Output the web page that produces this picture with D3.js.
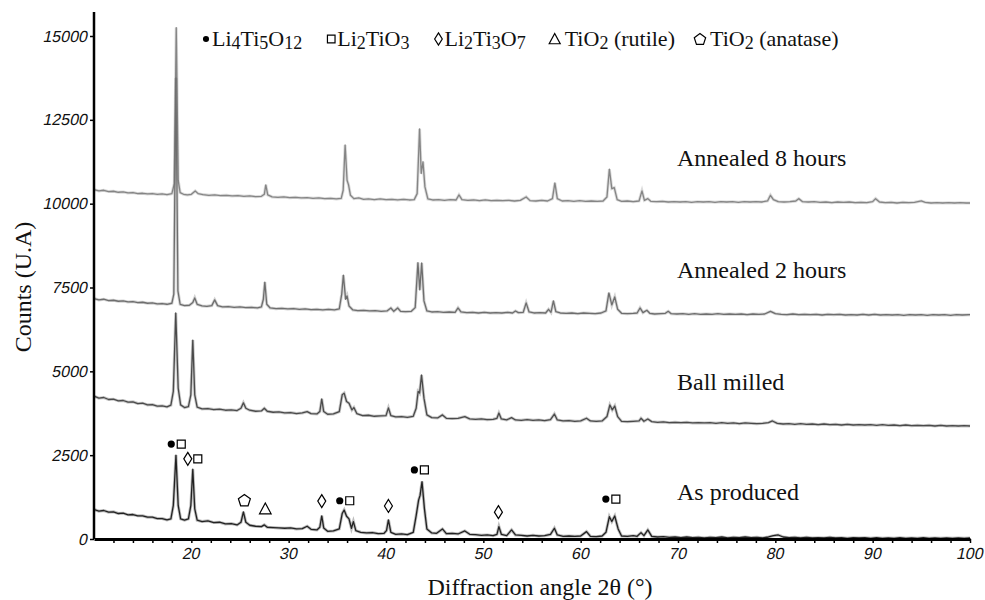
<!DOCTYPE html>
<html>
<head>
<meta charset="utf-8">
<script src="https://cdn.jsdelivr.net/npm/d3@7"></script>
<style>
  body { margin: 0; background: #fff; }
  svg { display: block; }
  .serif { font-family: "Liberation Serif", "Times New Roman", serif; fill: #111; }
</style>
</head>
<body>
<svg id="chart" width="985" height="600"></svg>
<script>
// XRD patterns, [2θ (deg), counts]
const annealed8h = [[10,10420],[10.5,10380],[11,10400],[11.5,10360],[12,10370],[12.5,10340],[13,10350],[13.5,10320],[14,10330],[14.5,10300],[15,10310],[15.5,10290],[16,10300],[16.5,10280],[17,10290],[17.5,10270],[18,10300],[18.25,10600],[18.45,15250],[18.65,10700],[18.85,10330],[19.2,10280],[19.6,10260],[20,10280],[20.4,10380],[20.7,10300],[21.2,10270],[21.8,10250],[22.4,10260],[23,10240],[23.6,10250],[24.2,10230],[24.8,10240],[25.4,10220],[26,10230],[26.6,10210],[27.2,10220],[27.5,10280],[27.65,10560],[27.85,10260],[28.3,10200],[28.9,10190],[29.5,10200],[30.1,10180],[30.7,10190],[31.3,10170],[31.9,10180],[32.5,10160],[33.1,10170],[33.7,10150],[34.3,10160],[34.9,10140],[35.4,10160],[35.6,10400],[35.8,11750],[36,10700],[36.15,10560],[36.35,10250],[36.7,10150],[37.2,10170],[37.7,10130],[38.2,10140],[38.8,10120],[39.4,10140],[40,10120],[40.6,10130],[41.2,10110],[41.8,10130],[42.4,10110],[42.9,10120],[43.2,10300],[43.45,12230],[43.62,10900],[43.8,11250],[44,10500],[44.3,10140],[44.8,10110],[45.4,10120],[46,10100],[46.6,10120],[47.2,10110],[47.5,10260],[47.8,10120],[48.4,10100],[49,10110],[49.6,10090],[50.2,10110],[50.8,10090],[51.4,10100],[52,10090],[52.6,10100],[53.2,10080],[53.8,10100],[54.4,10200],[54.8,10090],[55.4,10080],[56,10100],[56.6,10080],[57.1,10150],[57.35,10620],[57.6,10150],[58.1,10080],[58.7,10090],[59.3,10070],[59.9,10090],[60.5,10070],[61.1,10080],[61.7,10070],[62.3,10080],[62.7,10200],[62.95,11030],[63.2,10450],[63.45,10480],[63.75,10120],[64.2,10070],[64.8,10080],[65.4,10060],[66,10080],[66.3,10380],[66.55,10100],[66.9,10150],[67.2,10070],[67.8,10060],[68.4,10070],[69,10050],[69.6,10060],[70.2,10050],[70.8,10060],[71.4,10040],[72,10060],[72.6,10050],[73.2,10060],[73.8,10040],[74.4,10060],[75,10050],[75.6,10060],[76.2,10040],[76.8,10060],[77.4,10050],[78,10060],[78.6,10050],[79.2,10080],[79.5,10250],[79.8,10120],[80.3,10060],[80.9,10050],[81.5,10060],[82.1,10080],[82.4,10150],[82.8,10060],[83.4,10050],[84,10060],[84.6,10040],[85.2,10050],[85.8,10030],[86.4,10050],[87,10040],[87.6,10050],[88.2,10030],[88.8,10040],[89.4,10030],[90,10060],[90.3,10150],[90.7,10050],[91.3,10030],[91.9,10040],[92.5,10020],[93.1,10040],[93.7,10030],[94.3,10040],[95,10080],[95.4,10040],[96,10020],[96.6,10030],[97.2,10020],[97.8,10030],[98.4,10020],[99,10030],[99.6,10020],[100,10020]];

const annealed2h = [[10,7170],[10.5,7130],[11,7150],[11.5,7110],[12,7120],[12.5,7090],[13,7100],[13.5,7070],[14,7080],[14.5,7050],[15,7060],[15.5,7030],[16,7040],[16.5,7010],[17,7020],[17.5,7000],[18,7030],[18.2,7300],[18.42,13750],[18.62,7400],[18.85,7000],[19.3,6960],[19.8,6970],[20.15,7050],[20.35,7190],[20.6,7000],[21.1,6950],[21.6,6940],[22.1,6960],[22.4,7130],[22.7,6960],[23.2,6920],[23.8,6930],[24.4,6910],[25,6920],[25.6,6900],[26.2,6910],[26.8,6890],[27.2,6920],[27.4,7150],[27.55,7660],[27.75,7000],[28.1,6890],[28.7,6870],[29.3,6880],[29.9,6860],[30.5,6870],[31.1,6850],[31.7,6860],[32.3,6840],[32.9,6850],[33.5,6830],[34.1,6850],[34.7,6830],[35.2,6860],[35.45,7300],[35.62,7870],[35.85,7150],[36,7250],[36.2,6950],[36.6,6830],[37.1,6810],[37.7,6820],[38.3,6800],[38.9,6810],[39.5,6790],[40.1,6800],[40.5,6890],[40.8,6790],[41.2,6890],[41.5,6790],[42,6780],[42.6,6790],[43,6900],[43.28,8240],[43.47,7430],[43.67,8230],[43.9,7100],[44.2,6800],[44.7,6770],[45.3,6780],[45.9,6760],[46.5,6770],[47.1,6760],[47.4,6890],[47.7,6770],[48.3,6750],[48.9,6760],[49.5,6740],[50.1,6760],[50.7,6740],[51.3,6750],[51.9,6740],[52.5,6760],[53,6740],[53.3,6800],[53.6,6750],[54.1,6760],[54.4,7040],[54.7,6770],[55.2,6740],[55.8,6750],[56.4,6740],[56.7,6850],[56.95,6760],[57.2,7100],[57.45,6780],[57.9,6740],[58.5,6730],[59.1,6740],[59.7,6720],[60.3,6740],[60.9,6730],[61.5,6720],[62.1,6740],[62.6,6800],[62.9,7340],[63.2,6980],[63.5,7220],[63.8,6850],[64.2,6730],[64.8,6720],[65.4,6730],[65.8,6740],[66.1,6890],[66.4,6750],[66.8,6820],[67.1,6730],[67.6,6710],[68.2,6720],[68.7,6730],[69,6790],[69.3,6720],[69.9,6710],[70.5,6720],[71.1,6700],[71.7,6720],[72.3,6700],[72.9,6710],[73.5,6700],[74.1,6720],[74.7,6700],[75.3,6710],[75.9,6700],[76.5,6710],[77.1,6690],[77.7,6710],[78.3,6700],[78.9,6710],[79.5,6790],[80,6720],[80.6,6700],[81.2,6690],[81.8,6710],[82.4,6690],[83,6700],[83.6,6690],[84.2,6700],[84.8,6680],[85.4,6700],[86,6690],[86.6,6700],[87.2,6680],[87.8,6690],[88.4,6680],[89,6700],[89.6,6680],[90.2,6700],[90.8,6680],[91.4,6690],[92,6680],[92.6,6690],[93.2,6670],[93.8,6690],[94.4,6680],[95,6690],[95.6,6670],[96.2,6690],[96.8,6680],[97.4,6690],[98,6670],[98.6,6690],[99.2,6680],[100,6690]];

const ballMilled = [[10,4260],[10.5,4200],[11,4220],[11.5,4160],[12,4170],[12.5,4120],[13,4130],[13.5,4080],[14,4090],[14.5,4040],[15,4050],[15.5,4000],[16,4010],[16.5,3960],[17,3970],[17.5,3940],[17.9,3990],[18.15,4400],[18.4,6740],[18.65,4500],[18.9,4000],[19.3,3920],[19.7,3950],[19.95,4300],[20.15,5930],[20.35,4300],[20.6,3930],[21.1,3880],[21.7,3890],[22.3,3860],[22.9,3870],[23.5,3840],[24.1,3850],[24.7,3830],[25.1,3900],[25.35,4060],[25.6,3900],[26,3840],[26.6,3810],[27.2,3820],[27.5,3900],[27.8,3810],[28.4,3780],[29,3790],[29.6,3760],[30.2,3770],[30.8,3740],[31.4,3760],[31.9,3800],[32.3,3740],[32.9,3730],[33.2,3800],[33.4,4175],[33.6,3800],[34,3720],[34.6,3730],[35.2,3800],[35.5,4300],[35.7,4350],[35.95,4100],[36.2,4050],[36.5,3850],[36.7,3920],[37,3740],[37.6,3680],[38.2,3690],[38.8,3660],[39.4,3670],[40,3680],[40.25,3910],[40.5,3680],[41,3640],[41.6,3650],[42.2,3630],[42.8,3660],[43.1,3900],[43.3,4400],[43.45,4350],[43.65,4890],[43.9,4200],[44.2,3700],[44.7,3620],[45.3,3610],[45.8,3700],[46.2,3600],[46.8,3590],[47.4,3600],[48.1,3650],[48.6,3580],[49.2,3570],[49.8,3580],[50.4,3560],[51,3570],[51.4,3600],[51.6,3757],[51.85,3580],[52.4,3550],[52.9,3620],[53.3,3550],[53.9,3540],[54.5,3560],[55.1,3540],[55.7,3550],[56.3,3530],[56.9,3560],[57.3,3727],[57.6,3550],[58.2,3520],[58.8,3530],[59.4,3510],[60,3520],[60.6,3600],[61,3520],[61.6,3510],[62.2,3520],[62.7,3650],[63,3996],[63.25,3850],[63.5,3966],[63.8,3650],[64.2,3510],[64.8,3500],[65.4,3510],[66,3520],[66.2,3600],[66.5,3510],[66.9,3580],[67.3,3500],[67.9,3480],[68.5,3490],[69.1,3470],[69.7,3480],[70.3,3470],[70.9,3480],[71.5,3460],[72.1,3470],[72.7,3460],[73.3,3470],[73.9,3450],[74.5,3470],[75.1,3450],[75.7,3460],[76.3,3440],[76.9,3460],[77.5,3450],[78.1,3440],[78.7,3450],[79.3,3470],[79.7,3520],[80.2,3450],[80.8,3430],[81.4,3440],[82,3420],[82.6,3440],[83.2,3420],[83.8,3430],[84.4,3410],[85,3430],[85.6,3410],[86.2,3420],[86.8,3400],[87.4,3420],[88,3400],[88.6,3410],[89.2,3400],[89.8,3410],[90.4,3390],[91,3410],[91.6,3390],[92.2,3400],[92.8,3380],[93.4,3400],[94,3380],[94.6,3390],[95.2,3380],[95.8,3390],[96.4,3370],[97,3390],[97.6,3370],[98.2,3380],[98.8,3370],[99.4,3380],[100,3370]];

const asProduced = [[10,880],[10.5,830],[11,850],[11.5,800],[12,810],[12.5,760],[13,770],[13.5,720],[14,730],[14.5,690],[15,690],[15.5,650],[16,650],[16.5,610],[17,610],[17.5,570],[17.9,600],[18.15,1000],[18.42,2500],[18.65,1000],[18.9,600],[19.3,560],[19.7,600],[19.95,1000],[20.15,2080],[20.35,900],[20.6,560],[21.1,520],[21.7,540],[22.3,490],[22.9,500],[23.5,450],[24.1,460],[24.7,420],[25.1,500],[25.35,810],[25.6,500],[26,410],[26.6,380],[27.2,370],[27.5,420],[27.8,350],[28.4,340],[29,330],[29.6,320],[30.2,330],[30.8,300],[31.4,310],[31.9,380],[32.3,290],[32.9,270],[33.2,350],[33.4,690],[33.6,330],[34,230],[34.6,240],[35.2,300],[35.5,760],[35.7,865],[35.95,680],[36.2,600],[36.45,320],[36.65,520],[36.9,250],[37.4,200],[38,180],[38.6,190],[39.2,160],[39.8,170],[40.05,250],[40.25,570],[40.5,200],[41,140],[41.6,150],[42.2,130],[42.8,200],[43.1,700],[43.35,1160],[43.5,1300],[43.7,1710],[43.95,900],[44.2,300],[44.7,180],[45.2,170],[45.8,300],[46.2,160],[46.8,170],[47.4,150],[48.1,240],[48.6,140],[49.2,130],[49.8,110],[50.4,120],[51,100],[51.4,140],[51.6,370],[51.85,140],[52.4,100],[52.9,270],[53.3,120],[53.9,110],[54.5,90],[55.1,110],[55.7,90],[56.3,100],[56.9,140],[57.3,320],[57.6,120],[58.2,80],[58.8,90],[59.4,80],[60,90],[60.6,220],[61,80],[61.6,70],[62.2,90],[62.6,200],[62.95,665],[63.2,520],[63.5,686],[63.85,300],[64.2,90],[64.8,80],[65.4,100],[65.8,80],[66.2,190],[66.5,100],[66.9,270],[67.3,80],[67.9,60],[68.5,70],[69.1,50],[69.7,60],[70.3,40],[70.9,60],[71.5,40],[72.1,50],[72.7,30],[73.3,50],[73.9,40],[74.5,60],[75.1,30],[75.7,50],[76.3,40],[76.9,60],[77.5,40],[78.1,50],[78.7,30],[79.3,60],[79.8,100],[80.3,120],[80.8,60],[81.4,40],[82,50],[82.6,30],[83.2,50],[83.8,30],[84.4,40],[85,30],[85.6,50],[86.2,30],[86.8,40],[87.4,20],[88,40],[88.6,30],[89.2,40],[89.8,20],[90.4,40],[91,20],[91.6,30],[92.2,20],[92.8,40],[93.4,20],[94,30],[94.6,20],[95.2,40],[95.8,20],[96.4,30],[97,20],[97.6,30],[98.2,20],[98.8,30],[99.4,20],[100,30]];

const seriesNames = ["Annealed 8 hours", "Annealed 2 hours", "Ball milled", "As produced"];
const seriesData = [annealed8h, annealed2h, ballMilled, asProduced];
const seriesColors = ["#858585", "#6e6e6e", "#4a4a4a", "#222222"];
const labelCounts = [11120, 7780, 4440, 1160];

const yTicks = [0, 2500, 5000, 7500, 10000, 12500, 15000];
const xLabelTicks = [20, 30, 40, 50, 60, 70, 80, 90, 100];

// phase legend
const phaseKeys = ["circle", "square", "diamond", "triangle", "pentagon"];
const phaseLabels = ["Li4Ti5O12", "Li2TiO3", "Li2Ti3O7", "TiO2 (rutile)", "TiO2 (anatase)"];

// peak assignments on the as-produced pattern
const markAngles = [18.45, 20.15, 25.45, 27.6, 33.4, 35.76, 40.25, 43.43, 51.55, 63.1];
const markCounts = [2830, 2390, 1160, 900, 1130, 1140, 985, 2060, 800, 1190];
const markPhases = [["circle","square"],["diamond","square"],["pentagon"],["triangle"],["diamond"],["circle","square"],["diamond"],["circle","square"],["diamond"],["circle","square"]];

const svg = d3.select("#chart");
const plotLeft = 94, plotRight = 970, plotTop = 12, plotBottom = 539;

const x = d3.scaleLinear().domain([10, 100]).range([plotLeft, plotRight]);
const y = d3.scaleLinear().domain([0, 15000]).range([plotBottom, 36]);

// curves
const line = d3.line().x((d) => x(d[0])).y((d) => y(d[1]));
seriesData.forEach((data, i) => {
  svg.append("path")
    .datum(data)
    .attr("d", line)
    .attr("fill", "none")
    .attr("stroke", seriesColors[i])
    .attr("stroke-opacity", 0.3)
    .attr("stroke-width", 3);
  svg.append("path")
    .datum(data)
    .attr("d", line)
    .attr("fill", "none")
    .attr("stroke", seriesColors[i])
    .attr("stroke-width", 1.3)
    .attr("stroke-linejoin", "round");
});

// axes
const xAxis = svg.append("g")
  .attr("transform", `translate(0,${plotBottom})`)
  .call(d3.axisBottom(x)
    .tickValues(d3.range(12, 101, 2))
    .tickSize(4)
    .tickSizeOuter(0)
    .tickPadding(5)
    .tickFormat((d) => (xLabelTicks.includes(d) ? d : "")));
xAxis.select(".domain").attr("stroke-width", 3);
xAxis.selectAll(".tick line").attr("stroke-width", 1.5);

const yAxis = svg.append("g")
  .attr("transform", `translate(${plotLeft},0)`)
  .call(d3.axisLeft(y).tickValues(yTicks).tickFormat(d3.format("d")).tickSize(4).tickSizeOuter(0).tickPadding(2));
yAxis.select(".domain").attr("d", `M0,${plotTop}V${plotBottom}`).attr("stroke-width", 2.5);
yAxis.selectAll(".tick line").attr("stroke-width", 1.5);

// slanted tick numbers (skew keeps the slant whatever face is picked)
svg.selectAll(".tick text")
  .style("font-family", "'Liberation Sans', Arial, sans-serif")
  .style("font-size", "16px")
  .style("fill", "#111");
xAxis.selectAll(".tick text").attr("transform", "translate(3.1,0) skewX(-12)");
yAxis.selectAll(".tick text").attr("transform", "skewX(-12)");

svg.append("text")
  .attr("class", "serif")
  .attr("transform", "translate(31,287) rotate(-90)")
  .attr("text-anchor", "middle")
  .attr("font-size", 24)
  .text("Counts (U.A)");

svg.append("text")
  .attr("class", "serif")
  .attr("x", 540)
  .attr("y", 595)
  .attr("text-anchor", "middle")
  .attr("font-size", 24)
  .text("Diffraction angle 2θ (°)");

// series labels
svg.selectAll(".seriesLabel")
  .data(seriesNames)
  .enter()
  .append("text")
  .attr("class", "serif seriesLabel")
  .attr("x", 677)
  .attr("y", (d, i) => y(labelCounts[i]))
  .attr("font-size", 24)
  .text((d) => d);

// symbol shapes
const drawSymbol = (g, kind, cx, cy, s) => {
  if (kind === "circle") {
    g.append("circle").attr("cx", cx).attr("cy", cy).attr("r", 3.6 * s).attr("fill", "#000");
    return;
  }
  let pts;
  if (kind === "square") pts = [[-4, -4], [4, -4], [4, 4], [-4, 4]];
  if (kind === "diamond") pts = [[0, -6.5], [4, 0], [0, 6.5], [-4, 0]];
  if (kind === "triangle") pts = [[0, -5.8], [5.8, 5], [-5.8, 5]];
  if (kind === "pentagon") pts = d3.range(5).map((k) => {
    const a = -Math.PI / 2 + (k * 2 * Math.PI) / 5;
    return [6.3 * Math.cos(a), 6.3 * Math.sin(a) + 0.6];
  });
  g.append("polygon")
    .attr("points", pts.map((p) => [cx + p[0] * s, cy + p[1] * s].join(",")).join(" "))
    .attr("fill", "#fff")
    .attr("stroke", "#000")
    .attr("stroke-width", 1.2);
};

const marks = svg.append("g");
markAngles.forEach((a, i) => {
  const syms = markPhases[i];
  syms.forEach((k, j) => {
    const off = (j - (syms.length - 1) / 2) * 10;
    drawSymbol(marks, k, x(a) + off, y(markCounts[i]), 1);
  });
});

// legend row
const legend = svg.append("g");
let cursor = 201;
phaseLabels.forEach((lab, i) => {
  const k = phaseKeys[i];
  drawSymbol(legend, k, cursor + 5, 39, k === "circle" ? 0.85 : 0.95);
  const t = legend.append("text")
    .attr("class", "serif")
    .attr("x", cursor + (k === "triangle" || k === "pentagon" ? 15 : 11))
    .attr("y", 46)
    .attr("font-size", 22);
  let lowered = false;
  lab.split(/(\d+)/).filter((s) => s.length).forEach((part) => {
    const isSub = /^\d+$/.test(part);
    let dy = 0;
    if (isSub && !lowered) dy = 3;
    if (!isSub && lowered) dy = -3;
    lowered = isSub;
    t.append("tspan")
      .attr("font-size", isSub ? 18 : 22)
      .attr("dy", dy)
      .text(part);
  });
  cursor += 11 + t.node().getComputedTextLength() + 24;
});
</script>
</body>
</html>
